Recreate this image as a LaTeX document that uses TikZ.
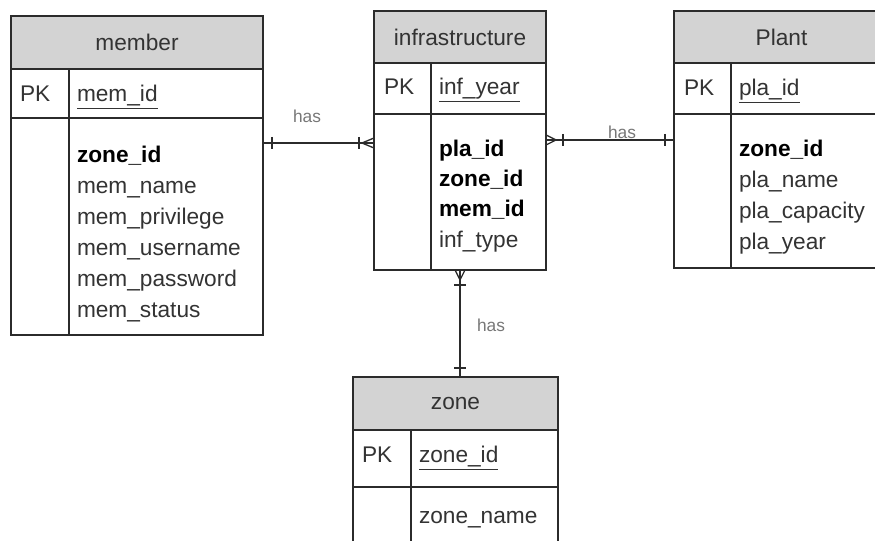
\documentclass[tikz,border=0pt]{standalone}
\usepackage{fontspec}
\setmainfont{Liberation Sans}
\usetikzlibrary{positioning}
\definecolor{headgray}{HTML}{D3D3D3}
\definecolor{txtgray}{HTML}{333333}
\definecolor{linegray}{HTML}{2B2B2B}
\definecolor{hasgray}{HTML}{777777}

\begin{document}
\begin{tikzpicture}[x=0.75pt,y=-0.75pt,
	every node/.style={font=\fontsize{17}{20}\selectfont, inner sep=0pt, outer sep=0pt},
	head/.style={draw=linegray, line width=1.2pt, fill=headgray, text=txtgray},
	cell/.style={draw=linegray, line width=1.2pt, fill=white},
	divider/.style={linegray, line width=1.2pt},
	attr/.style={anchor=base west, text=txtgray},
	key/.style={anchor=base west, text=black, font=\fontsize{17}{20}\selectfont\bfseries},
	rel/.style={linegray, line width=1pt},
	haslabel/.style={anchor=base west, text=hasgray, font=\fontsize{13}{15}\selectfont}]
	
	\useasboundingbox (0,0) rectangle (875,541);
	\clip (0,0) rectangle (875,541);
	
	% member
	\node[head, anchor=north west, minimum width=189pt, minimum height=39.75pt] (member-head) at (11,16) {member};
	\node[cell, minimum width=189pt, minimum height=36.75pt, below=0pt of member-head] (member-pk) {};
	\node[cell, minimum width=189pt, minimum height=162.75pt, below=0pt of member-pk] (member-body) {};
	\draw[divider] ([xshift=43.5pt]member-pk.north west) -- ([xshift=43.5pt]member-body.south west);
	\node[attr] (member-pkl) at (20,102) {PK};
	\node[attr] (member-id) at (77,102) {\underline{mem\_id}};
	\node[key] (member-k1) at (77,163) {zone\_id};
	\foreach \fld [count=\i] in {mem\_name,mem\_privilege,mem\_username,mem\_password,mem\_status}
		\node[attr] (member-f\i) at (77,{163+31*\i}) {\fld};
	
	% infrastructure
	\node[head, anchor=north west, minimum width=129pt, minimum height=39pt] (infra-head) at (374,11) {infrastructure};
	\node[cell, minimum width=129pt, minimum height=38.25pt, below=0pt of infra-head] (infra-pk) {};
	\node[cell, minimum width=129pt, minimum height=117pt, below=0pt of infra-pk] (infra-body) {};
	\draw[divider] ([xshift=42.75pt]infra-pk.north west) -- ([xshift=42.75pt]infra-body.south west);
	\node[attr] (infra-pkl) at (384,95) {PK};
	\node[attr] (infra-id) at (439,95) {\underline{inf\_year}};
	\foreach \fld [count=\i] in {pla\_id,zone\_id,mem\_id}
		\node[key] (infra-k\i) at (439,{127+30*\i}) {\fld};
	\node[attr] (infra-f1) at (439,248) {inf\_type};
	
	% Plant
	\node[head, anchor=north west, minimum width=161.25pt, minimum height=39pt] (plant-head) at (674,11) {Plant};
	\node[cell, minimum width=161.25pt, minimum height=38.25pt, below=0pt of plant-head] (plant-pk) {};
	\node[cell, minimum width=161.25pt, minimum height=115.5pt, below=0pt of plant-pk] (plant-body) {};
	\draw[divider] ([xshift=42.75pt]plant-pk.north west) -- ([xshift=42.75pt]plant-body.south west);
	\node[attr] (plant-pkl) at (684,96) {PK};
	\node[attr] (plant-id) at (739,96) {\underline{pla\_id}};
	\node[key] (plant-k1) at (739,157) {zone\_id};
	\foreach \fld [count=\i] in {pla\_name,pla\_capacity,pla\_year}
		\node[attr] (plant-f\i) at (739,{157+30.7*\i}) {\fld};
	
	% zone
	\node[head, anchor=north west, minimum width=153.75pt, minimum height=39.75pt] (zone-head) at (353,377) {zone};
	\node[cell, minimum width=153.75pt, minimum height=42.75pt, below=0pt of zone-head] (zone-pk) {};
	\node[cell, minimum width=153.75pt, minimum height=60pt, below=0pt of zone-pk] (zone-body) {};
	\draw[divider] ([xshift=43.5pt]zone-pk.north west) -- ([xshift=43.5pt]zone-body.south west);
	\node[attr] (zone-pkl) at (362,463) {PK};
	\node[attr] (zone-id) at (419,463) {\underline{zone\_id}};
	\node[attr] (zone-f1) at (419,523) {zone\_name};
	
	% relations
	\draw[rel] (member-body.east |- 0,143) -- (infra-body.west |- 0,143);
	\draw[rel] (272,137) -- (272,149);
	\draw[rel] (359,137) -- (359,149);
	\draw[rel] (374,138) -- (362,143) -- (374,148);
	\node[haslabel] (has-member) at (293,123) {has};
	
	\draw[rel] (infra-body.east |- 0,140) -- (plant-body.west |- 0,140);
	\draw[rel] (546,135) -- (556,140) -- (546,145);
	\draw[rel] (563,134) -- (563,146);
	\draw[rel] (665,134) -- (665,146);
	\node[haslabel] (has-plant) at (608,139) {has};
	
	\draw[rel] (infra-body.south) -- (infra-body.south |- zone-head.north);
	\draw[rel] (455,270) -- (460,280) -- (465,270);
	\draw[rel] (454,285) -- (466,285);
	\draw[rel] (454,368) -- (466,368);
	\node[haslabel] (has-zone) at (477,332) {has};
	
\end{tikzpicture}
\end{document}
